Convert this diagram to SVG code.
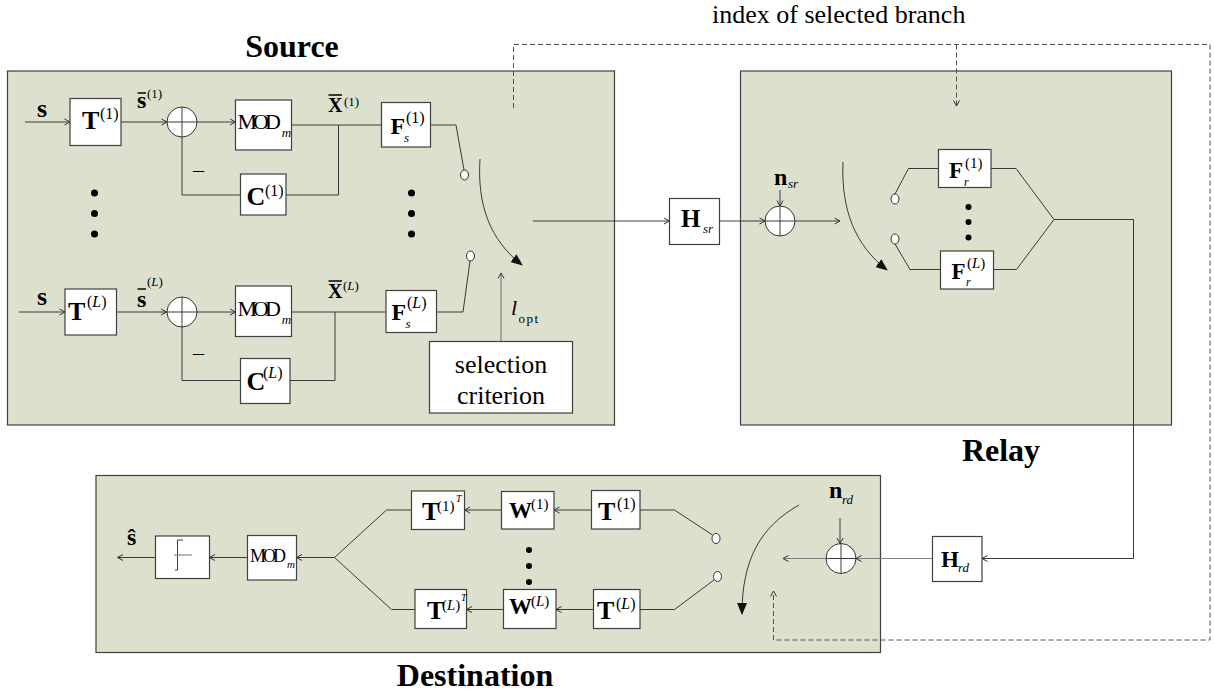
<svg xmlns="http://www.w3.org/2000/svg" width="1214" height="698" viewBox="0 0 1214 698">
<style>
.panel{fill:#dde0cc;stroke:#404040;stroke-width:1.2}
.box{fill:#fff;stroke:#404040;stroke-width:1.2}
.ln{fill:none;stroke:#3a3a3a;stroke-width:1}
.gl{fill:none;stroke:#808080;stroke-width:1.2}
.ds{fill:none;stroke:#505050;stroke-width:1;stroke-dasharray:5,3}
.ct{fill:#fff;stroke:#333;stroke-width:1}
.dot{fill:#000}
.b{font-weight:bold}
.i{font-style:italic}
.title{font-weight:bold;font-size:32px;text-anchor:middle}
</style>
<defs>
<marker id="a" markerWidth="8" markerHeight="8" refX="7" refY="4" orient="auto" markerUnits="userSpaceOnUse"><path d="M1.5,1 L7,4 L1.5,7" fill="none" stroke="#333" stroke-width="1"/></marker>
<marker id="f" markerWidth="12" markerHeight="10" refX="11" refY="5" orient="auto" markerUnits="userSpaceOnUse"><path d="M0,0 L12,5 L0,10 z" fill="#111"/></marker>
</defs>
<rect width="1214" height="698" fill="#fff"/>

<g id="source">
<rect class="panel" x="7.5" y="71" width="607" height="354"/>
<text class="title" font-family="Liberation Serif" x="292" y="57">Source</text>
</g>
<g id="relay">
<rect class="panel" x="740.5" y="71" width="431" height="354"/>
<text class="title" font-family="Liberation Serif" x="1001" y="461">Relay</text>
</g>
<g id="destination">
<rect class="panel" x="96" y="475.5" width="784.5" height="177"/>
<text class="title" font-family="Liberation Serif" x="475" y="686">Destination</text>
</g>

<g id="connectors">
<line class="ln" x1="25" y1="122" x2="70" y2="122" marker-end="url(#a)"/>
<line class="ln" x1="121" y1="122" x2="167" y2="122" marker-end="url(#a)"/>
<line class="ln" x1="197" y1="122" x2="235.5" y2="122" marker-end="url(#a)"/>
<polyline class="ln" points="291.5,125 381.5,125"/>
<polyline class="ln" points="338.5,125 338.5,195 286,195"/>
<polyline class="ln" points="240.5,195 182,195 182,137"/>
<polyline class="ln" points="430.5,125 456,125 464,170"/>
<line class="ln" x1="19" y1="312" x2="65" y2="312" marker-end="url(#a)"/>
<line class="ln" x1="116.5" y1="312" x2="166.5" y2="312" marker-end="url(#a)"/>
<line class="ln" x1="197" y1="312" x2="235.5" y2="312" marker-end="url(#a)"/>
<polyline class="ln" points="291.5,312 386,312"/>
<polyline class="ln" points="335,312 335,380.5 290,380.5"/>
<polyline class="ln" points="240.5,380.5 182,380.5 182,327"/>
<polyline class="ln" points="436.5,312 463,312 470,261"/>
<path class="ln" d="M480,159 C477,205 490,240 522,265" marker-end="url(#f)"/>
<line class="gl" x1="501" y1="341.5" x2="501" y2="273" marker-end="url(#a)"/>
<line class="ln" x1="533" y1="221" x2="669.5" y2="221" marker-end="url(#a)"/>
<line class="ln" x1="719.5" y1="221" x2="765" y2="221" marker-end="url(#a)"/>
<line class="ln" x1="795" y1="221" x2="840" y2="221" marker-end="url(#a)"/>
<line class="ln" x1="780" y1="190" x2="780" y2="206" marker-end="url(#a)"/>
<path class="ln" d="M843,162 C841,210 855,245 887,270" marker-end="url(#f)"/>
<polyline class="ln" points="895,194 908.5,168.5 938.5,168.5"/>
<polyline class="ln" points="991,168.5 1016,168.5 1054,219.5 1133.5,219.5 1133.5,558.5 982,558.5" marker-end="url(#a)"/>
<polyline class="ln" points="895,244 910,269.5 940.5,269.5"/>
<polyline class="ln" points="993.5,269.5 1016.5,269.5 1054,219.5"/>
<line class="gl" x1="932.5" y1="558.5" x2="856" y2="558.5" marker-end="url(#a)"/>
<line class="ln" x1="840" y1="518" x2="840" y2="543.5" marker-end="url(#a)"/>
<line class="gl" x1="825" y1="558.5" x2="783" y2="558.5" marker-end="url(#a)"/>
<path class="ln" d="M799,505 C760,527 742,560 742,614" marker-end="url(#f)"/>
<polyline class="ln" points="712.5,535 674.5,510 640,510"/>
<polyline class="ln" points="714,580 674.5,609.5 640,609.5"/>
<line class="ln" x1="591.5" y1="510" x2="554" y2="510" marker-end="url(#a)"/>
<line class="ln" x1="501.5" y1="510" x2="464.5" y2="510" marker-end="url(#a)"/>
<polyline class="ln" points="411.5,510 386.5,510 334.5,557.5 391.5,609.5 415,609.5"/>
<line class="ln" x1="593.5" y1="609.5" x2="556" y2="609.5" marker-end="url(#a)"/>
<line class="ln" x1="503.5" y1="609.5" x2="466.5" y2="609.5" marker-end="url(#a)"/>
<line class="ln" x1="334.5" y1="557.5" x2="296.5" y2="557.5" marker-end="url(#a)"/>
<line class="ln" x1="247.5" y1="557.5" x2="209.5" y2="557.5" marker-end="url(#a)"/>
<line class="ln" x1="155.5" y1="557.5" x2="117.5" y2="557.5" marker-end="url(#a)"/>
<polyline class="ds" points="513.5,108 513.5,44.5 1210,44.5 1210,640 773.5,640 773.5,591" marker-end="url(#a)"/>
<line class="ds" x1="956.5" y1="44.5" x2="956.5" y2="106" marker-end="url(#a)"/>
</g>

<g id="in-s1"><text class="b" font-family="Liberation Serif" x="37" y="117" font-size="26">s</text></g>
<g id="T1"><rect class="box" x="70" y="98.5" width="51" height="47"/>
<text class="b" font-family="Liberation Serif" x="82" y="129" font-size="26">T</text><text font-family="Liberation Serif" x="100" y="119" font-size="16">(1)</text></g>
<g id="sbar1"><text class="b" font-family="Liberation Serif" x="137" y="108" font-size="24">s</text><line x1="137.5" y1="93" x2="146" y2="93" stroke="#111" stroke-width="1.6"/><text font-family="Liberation Serif" x="147" y="98" font-size="13">(1)</text></g>
<g id="sum1"><circle class="ct" cx="182" cy="122" r="15"/><line class="ln" x1="167" y1="122" x2="197" y2="122"/><line class="ln" x1="182" y1="107" x2="182" y2="137"/></g>
<g id="mod1"><rect class="box" x="235.5" y="100" width="56" height="50"/>
<text font-family="Liberation Serif" x="237.5" y="129" font-size="22" letter-spacing="-4">MOD<tspan font-size="13" font-style="italic" letter-spacing="0" dx="5" dy="8">m</tspan></text></g>
<g id="xbar1"><text class="b" font-family="Liberation Serif" x="328" y="112" font-size="20">X</text><line x1="328.5" y1="95" x2="342" y2="95" stroke="#111" stroke-width="1.6"/><text font-family="Liberation Serif" x="344" y="106" font-size="13">(1)</text></g>
<g id="minus1"><text font-family="Liberation Serif" x="193" y="177" font-size="22">–</text></g>
<g id="C1"><rect class="box" x="240.5" y="174" width="45.5" height="41"/>
<text class="b" font-family="Liberation Serif" x="246.5" y="205" font-size="26">C</text><text font-family="Liberation Serif" x="265" y="196" font-size="16">(1)</text></g>
<g id="Fs1"><rect class="box" x="381.5" y="102.5" width="49" height="44.5"/>
<text class="b" font-family="Liberation Serif" x="390.5" y="134" font-size="24">F</text><text font-family="Liberation Serif" x="406" y="123" font-size="16">(1)</text><text class="i" font-family="Liberation Serif" x="404" y="142" font-size="13">s</text></g>
<g id="contact1"><ellipse class="ct" cx="464.5" cy="175" rx="4" ry="5"/></g>
<g id="dots-src-l"><circle class="dot" cx="94.5" cy="193" r="3.5"/><circle class="dot" cx="94.5" cy="213.5" r="3.5"/><circle class="dot" cx="94.5" cy="234" r="3.5"/></g>
<g id="dots-src-r"><circle class="dot" cx="411.5" cy="193" r="3.5"/><circle class="dot" cx="411.5" cy="213.5" r="3.5"/><circle class="dot" cx="411.5" cy="234" r="3.5"/></g>

<g id="in-sL"><text class="b" font-family="Liberation Serif" x="37" y="305" font-size="26">s</text></g>
<g id="TL"><rect class="box" x="65" y="289" width="51.5" height="46"/>
<text class="b" font-family="Liberation Serif" x="68" y="320" font-size="26">T</text><text font-family="Liberation Serif" x="87" y="307" font-size="16">(<tspan class="i">L</tspan>)</text></g>
<g id="sbarL"><text class="b" font-family="Liberation Serif" x="137" y="307" font-size="24">s</text><line x1="137.5" y1="289" x2="146" y2="289" stroke="#111" stroke-width="1.6"/><text font-family="Liberation Serif" x="147" y="286" font-size="13">(<tspan class="i">L</tspan>)</text></g>
<g id="sumL"><circle class="ct" cx="182" cy="312" r="15"/><line class="ln" x1="167" y1="312" x2="197" y2="312"/><line class="ln" x1="182" y1="297" x2="182" y2="327"/></g>
<g id="modL"><rect class="box" x="235.5" y="286" width="56" height="50.5"/>
<text font-family="Liberation Serif" x="237.5" y="316" font-size="22" letter-spacing="-4">MOD<tspan font-size="13" font-style="italic" letter-spacing="0" dx="5" dy="8">m</tspan></text></g>
<g id="xbarL"><text class="b" font-family="Liberation Serif" x="328" y="298" font-size="20">X</text><line x1="328.5" y1="281" x2="342" y2="281" stroke="#111" stroke-width="1.6"/><text font-family="Liberation Serif" x="343" y="290" font-size="13">(<tspan class="i">L</tspan>)</text></g>
<g id="minusL"><text font-family="Liberation Serif" x="193" y="360" font-size="22">–</text></g>
<g id="CL"><rect class="box" x="240.5" y="358.5" width="49.5" height="45"/>
<text class="b" font-family="Liberation Serif" x="246.5" y="390" font-size="26">C</text><text font-family="Liberation Serif" x="263" y="378" font-size="16">(<tspan class="i">L</tspan>)</text></g>
<g id="FsL"><rect class="box" x="386" y="290.5" width="50.5" height="42"/>
<text class="b" font-family="Liberation Serif" x="391.5" y="320" font-size="24">F</text><text font-family="Liberation Serif" x="407" y="308" font-size="16">(<tspan class="i">L</tspan>)</text><text class="i" font-family="Liberation Serif" x="405.5" y="328" font-size="13">s</text></g>
<g id="contactL"><ellipse class="ct" cx="470.5" cy="256" rx="4" ry="5"/></g>
<g id="selection"><rect class="box" x="429.5" y="341.5" width="143" height="71.5"/>
<text font-family="Liberation Serif" x="501" y="373" font-size="26" text-anchor="middle">selection</text><text font-family="Liberation Serif" x="501" y="404" font-size="26" text-anchor="middle">criterion</text></g>
<g id="lopt"><text class="i" font-family="Liberation Serif" x="511" y="315" font-size="22">l</text><text font-family="Liberation Serif" x="518.5" y="323" font-size="13" letter-spacing="1.5">opt</text></g>
<g id="Hsr"><rect class="box" x="669.5" y="198.5" width="50" height="46"/>
<text class="b" font-family="Liberation Serif" x="681" y="227" font-size="25">H</text><text class="i" font-family="Liberation Serif" x="703" y="233" font-size="13">sr</text></g>
<g id="index-label"><text font-family="Liberation Serif" x="712" y="23" font-size="26">index of selected branch</text></g>

<g id="nsr"><text class="b" font-family="Liberation Serif" x="774" y="185" font-size="24">n</text><text class="i" font-family="Liberation Serif" x="788" y="188" font-size="13">sr</text></g>
<g id="sumR"><circle class="ct" cx="780" cy="221" r="15"/><line class="ln" x1="765" y1="221" x2="795" y2="221"/><line class="ln" x1="780" y1="206" x2="780" y2="236"/></g>
<g id="contactR1"><ellipse class="ct" cx="895" cy="199" rx="4" ry="5"/></g>
<g id="contactRL"><ellipse class="ct" cx="895" cy="239" rx="4" ry="5"/></g>
<g id="Fr1"><rect class="box" x="938.5" y="149.5" width="52.5" height="38"/>
<text class="b" font-family="Liberation Serif" x="949" y="178" font-size="23">F</text><text font-family="Liberation Serif" x="965" y="168" font-size="15">(1)</text><text class="i" font-family="Liberation Serif" x="964" y="186" font-size="12">r</text></g>
<g id="FrL"><rect class="box" x="940.5" y="251" width="53" height="38"/>
<text class="b" font-family="Liberation Serif" x="951.5" y="279" font-size="23">F</text><text font-family="Liberation Serif" x="967" y="268" font-size="15">(<tspan class="i">L</tspan>)</text><text class="i" font-family="Liberation Serif" x="966" y="286" font-size="12">r</text></g>
<g id="dots-relay"><circle class="dot" cx="968.5" cy="207" r="3"/><circle class="dot" cx="968.5" cy="222" r="3"/><circle class="dot" cx="968.5" cy="237.5" r="3"/></g>
<g id="Hrd"><rect class="box" x="932.5" y="536.5" width="49.5" height="45"/>
<text class="b" font-family="Liberation Serif" x="941" y="567" font-size="23">H</text><text class="i" font-family="Liberation Serif" x="958" y="572" font-size="13">rd</text></g>

<g id="nrd"><text class="b" font-family="Liberation Serif" x="829" y="498" font-size="24">n</text><text class="i" font-family="Liberation Serif" x="842" y="504" font-size="13">rd</text></g>
<g id="sumD"><circle class="ct" cx="841" cy="558.5" r="15"/><line class="ln" x1="826" y1="558.5" x2="856" y2="558.5"/><line class="ln" x1="841" y1="543.5" x2="841" y2="573.5"/></g>
<g id="contactD1"><ellipse class="ct" cx="716" cy="538.5" rx="4" ry="5"/></g>
<g id="contactDL"><ellipse class="ct" cx="717.5" cy="576.5" rx="4" ry="5"/></g>
<g id="DT1"><rect class="box" x="591.5" y="490.5" width="48.5" height="38.5"/>
<text class="b" font-family="Liberation Serif" x="598" y="520" font-size="26">T</text><text font-family="Liberation Serif" x="617" y="509" font-size="16">(1)</text></g>
<g id="DW1"><rect class="box" x="501.5" y="491.5" width="52.5" height="37.5"/>
<text class="b" font-family="Liberation Serif" x="509" y="518" font-size="23">W</text><text font-family="Liberation Serif" x="531" y="509" font-size="15">(1)</text></g>
<g id="DT1T"><rect class="box" x="411.5" y="491" width="53" height="38.5"/>
<text class="b" font-family="Liberation Serif" x="422" y="520" font-size="26">T</text><text font-family="Liberation Serif" x="437" y="511" font-size="15">(1)</text><text class="i" font-family="Liberation Serif" x="456" y="502" font-size="10">T</text></g>
<g id="DTL"><rect class="box" x="593.5" y="589.5" width="46.5" height="39"/>
<text class="b" font-family="Liberation Serif" x="597" y="619" font-size="26">T</text><text font-family="Liberation Serif" x="616" y="609" font-size="16">(<tspan class="i">L</tspan>)</text></g>
<g id="DWL"><rect class="box" x="503.5" y="589.5" width="52.5" height="39"/>
<text class="b" font-family="Liberation Serif" x="509" y="614" font-size="23">W</text><text font-family="Liberation Serif" x="531" y="606" font-size="15">(<tspan class="i">L</tspan>)</text></g>
<g id="DTLT"><rect class="box" x="415" y="589.5" width="51.5" height="39"/>
<text class="b" font-family="Liberation Serif" x="427" y="619" font-size="26">T</text><text font-family="Liberation Serif" x="442" y="610" font-size="15">(<tspan class="i">L</tspan>)</text><text class="i" font-family="Liberation Serif" x="461" y="601" font-size="10">T</text></g>
<g id="dots-dest"><circle class="dot" cx="529" cy="550" r="3"/><circle class="dot" cx="529" cy="566" r="3"/><circle class="dot" cx="529" cy="582" r="3"/></g>
<g id="DMOD"><rect class="box" x="247.5" y="535.5" width="49" height="44.5"/>
<text font-family="Liberation Serif" x="250" y="562" font-size="18" letter-spacing="-3">MOD<tspan font-size="11" font-style="italic" letter-spacing="0" dx="4" dy="6">m</tspan></text></g>
<g id="decision"><rect class="box" x="155.5" y="536" width="54" height="42.5"/>
<polyline class="ln" points="183,540 177.5,540 177.5,570 175,570" stroke="#222"/>
<line x1="174" y1="555" x2="192" y2="555" stroke="#888" stroke-width="1.2"/></g>
<g id="shat"><text class="b" font-family="Liberation Serif" x="127" y="545" font-size="24">ŝ</text></g>
</svg>
